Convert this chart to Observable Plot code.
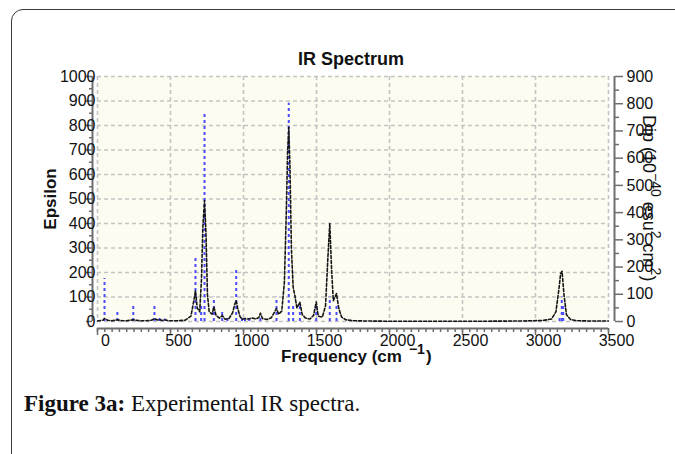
<!DOCTYPE html>
<html><head><meta charset="utf-8">
<script src="https://cdn.jsdelivr.net/npm/d3@7"></script>
<script src="https://cdn.jsdelivr.net/npm/@observablehq/plot@0.6"></script>
<style>
html,body{margin:0;padding:0;background:#fff;width:675px;height:454px;overflow:hidden;position:relative}
#frame{position:absolute;left:11px;top:9px;width:720px;height:520px;border:1.5px solid #3a3a3a;border-radius:12px;box-sizing:border-box}
#chart{position:absolute;left:0;top:0}
#caption{position:absolute;left:24px;top:391px;font-family:"Liberation Serif",serif;font-size:23px;color:#111;white-space:nowrap}
</style></head>
<body>
<div id="frame"></div>
<div id="chart"></div>
<div id="caption"><b>Figure 3a:</b> Experimental IR spectra.</div>
<script>
const title = "IR Spectrum";
const xLabel = "Frequency (cm";
const xLabelSup = "\u22121";
const yLabel = "Epsilon";
const xTicks = [0, 500, 1000, 1500, 2000, 2500, 3000, 3500];
const yTicks = [0, 100, 200, 300, 400, 500, 600, 700, 800, 900, 1000];
const dipTicks = [0, 100, 200, 300, 400, 500, 600, 700, 800, 900];
const epsMax = 1000;
const dipMax = 900;

// broadened spectrum (Epsilon, left axis)
const specFreq = [0, 40, 48, 70, 100, 136, 170, 200, 245, 290, 330, 370, 390, 410, 425, 445, 460, 490, 540, 600, 640, 660, 671, 683, 700, 712, 722, 733, 743, 753, 765, 785, 797, 812, 835, 854, 875, 900, 925, 940, 950, 960, 975, 990, 1010, 1030, 1060, 1085, 1105, 1116, 1130, 1160, 1190, 1212, 1226, 1240, 1262, 1280, 1292, 1302, 1310, 1318, 1328, 1340, 1352, 1366, 1386, 1402, 1425, 1455, 1480, 1498, 1512, 1540, 1562, 1578, 1591, 1602, 1615, 1637, 1652, 1672, 1700, 1760, 1850, 2000, 2300, 2600, 2900, 3050, 3110, 3140, 3160, 3172, 3182, 3195, 3212, 3240, 3290, 3380, 3500];
const specEps = [2, 6, 12, 5, 3, 7, 3, 3, 7, 3, 3, 5, 12, 6, 8, 4, 7, 3, 3, 5, 22, 85, 126, 55, 40, 170, 390, 494, 360, 110, 40, 30, 60, 25, 14, 24, 9, 12, 35, 70, 86, 55, 22, 9, 12, 10, 14, 10, 16, 34, 12, 8, 15, 38, 53, 30, 42, 160, 420, 690, 793, 640, 300, 140, 105, 55, 79, 28, 14, 10, 25, 79, 22, 18, 65, 260, 400, 230, 85, 114, 55, 18, 7, 3, 2, 1, 1, 1, 2, 4, 10, 40, 130, 195, 205, 110, 28, 8, 3, 2, 2];

// stick spectrum (Dip, right axis)
const stickFreq = [48, 136, 245, 390, 425, 460, 671, 710, 733, 797, 854, 890, 950, 990, 1010, 1040, 1116, 1226, 1310, 1340, 1386, 1498, 1591, 1637, 3165, 3180, 3190];
const stickDip = [158, 36, 63, 63, 11, 9, 239, 63, 760, 89, 38, 11, 191, 11, 9, 11, 23, 89, 802, 66, 63, 63, 90, 66, 11, 90, 55];

const spectrum = specFreq.map((f, i) => ({f, eps: specEps[i]}));
const sticks = stickFreq.map((f, i) => ({f, dip: stickDip[i]}));
const toEps = v => v * epsMax / dipMax;

const axisGray = "#6e6e6e";
const gridStyle = {stroke: "#c4c4c4", strokeOpacity: 1, strokeWidth: 1.6, strokeDasharray: "4,3"};

const plot = Plot.plot({
  width: 675,
  height: 375,
  marginLeft: 97,
  marginRight: 67,
  marginTop: 76,
  marginBottom: 54,
  x: {domain: [0, 3500]},
  y: {domain: [0, epsMax]},
  style: {fontFamily: "'Liberation Sans', Arial, sans-serif", fontSize: "16px", color: "#111", background: "transparent"},
  marks: [
    Plot.frame({fill: "#fcfcf0", stroke: "none"}),
    Plot.gridX(xTicks, gridStyle),
    Plot.gridY(yTicks, gridStyle),
    Plot.ruleX(sticks, {x: "f", y1: 0, y2: d => toEps(d.dip), stroke: "#4b4bff", strokeWidth: 2, strokeDasharray: "3,3"}),
    Plot.line(spectrum, {x: "f", y: "eps", stroke: "#151515", strokeWidth: 1.6, strokeDasharray: "3,2"}),
    // axis lines
    Plot.ruleY([0], {dy: 7, stroke: axisGray, strokeWidth: 2}),
    Plot.ruleX([0], {dx: -5, stroke: axisGray, strokeWidth: 2}),
    Plot.ruleX([3500], {dx: 6, stroke: axisGray, strokeWidth: 2}),
    // x axis
    Plot.axisX(d3.range(0, 3501, 50), {anchor: "bottom", tickSize: 4, dy: 7, fill: "none", stroke: axisGray, strokeWidth: 1.5, label: null}),
    Plot.axisX(xTicks, {anchor: "bottom", tickSize: 7, dy: 7, fill: "none", stroke: axisGray, strokeWidth: 1.5, label: null}),
    Plot.axisX(xTicks, {anchor: "bottom", tickSize: 0, tickPadding: 6, dy: 7, dx: 8, stroke: "none", tickFormat: d => String(d), label: null}),
    // left axis
    Plot.axisY(d3.range(50, 1000, 100), {anchor: "left", tickSize: 3, dx: -5, fill: "none", stroke: axisGray, strokeWidth: 1.5, label: null}),
    Plot.axisY(yTicks, {anchor: "left", tickSize: 6, dx: -5, fill: "none", stroke: axisGray, strokeWidth: 1.5, label: null}),
    Plot.axisY(yTicks, {anchor: "left", tickSize: 0, tickPadding: 2, stroke: "none", tickFormat: d => String(d), label: null}),
    // right axis (Dip)
    Plot.axisY(d3.range(50, 900, 100).map(toEps), {anchor: "right", tickSize: 4, dx: 6, fill: "none", stroke: axisGray, strokeWidth: 1.5, label: null}),
    Plot.axisY(dipTicks.map(toEps), {anchor: "right", tickSize: 8, dx: 6, fill: "none", stroke: axisGray, strokeWidth: 1.5, label: null}),
    Plot.axisY(dipTicks.map(toEps), {anchor: "right", tickSize: 0, tickPadding: 12, dx: 6, stroke: "none", tickFormat: v => String(Math.round(v * dipMax / epsMax)), label: null})
  ]
});
document.getElementById("chart").appendChild(plot);

const svg = d3.select(plot);
const font = "'Liberation Sans', Arial, sans-serif";
svg.append("text").attr("x", 351).attr("y", 65).attr("text-anchor", "middle")
  .attr("font-family", font).attr("font-size", 18).attr("font-weight", "bold").attr("fill", "#111").text(title);
svg.append("text").attr("transform", "translate(56,199) rotate(-90)").attr("text-anchor", "middle")
  .attr("font-family", font).attr("font-size", 17).attr("font-weight", "bold").attr("fill", "#111").text(yLabel);
const fx = svg.append("text").attr("x", 281).attr("y", 362).attr("text-anchor", "start")
  .attr("font-family", font).attr("font-size", 17).attr("font-weight", "bold").attr("fill", "#111");
fx.append("tspan").text(xLabel);
fx.append("tspan").attr("dx", 7).attr("dy", -8).attr("font-size", 14).text(xLabelSup);
fx.append("tspan").attr("dx", 1).attr("dy", 8).text(")");

const r = svg.append("text").attr("transform", "translate(643,115) rotate(90)").attr("text-anchor", "start")
  .attr("font-family", font).attr("font-size", 18).attr("fill", "#111");
r.append("tspan").text("Dip (10");
r.append("tspan").attr("dy", -8).attr("font-size", 14).text("\u221240");
r.append("tspan").attr("dy", 8).text(" esu");
r.append("tspan").attr("dy", -8).attr("font-size", 14).text("2");
r.append("tspan").attr("dy", 8).text(" cm");
r.append("tspan").attr("dy", -8).attr("font-size", 14).text("2");
r.append("tspan").attr("dy", 8).text(")");
</script>
</body></html>
